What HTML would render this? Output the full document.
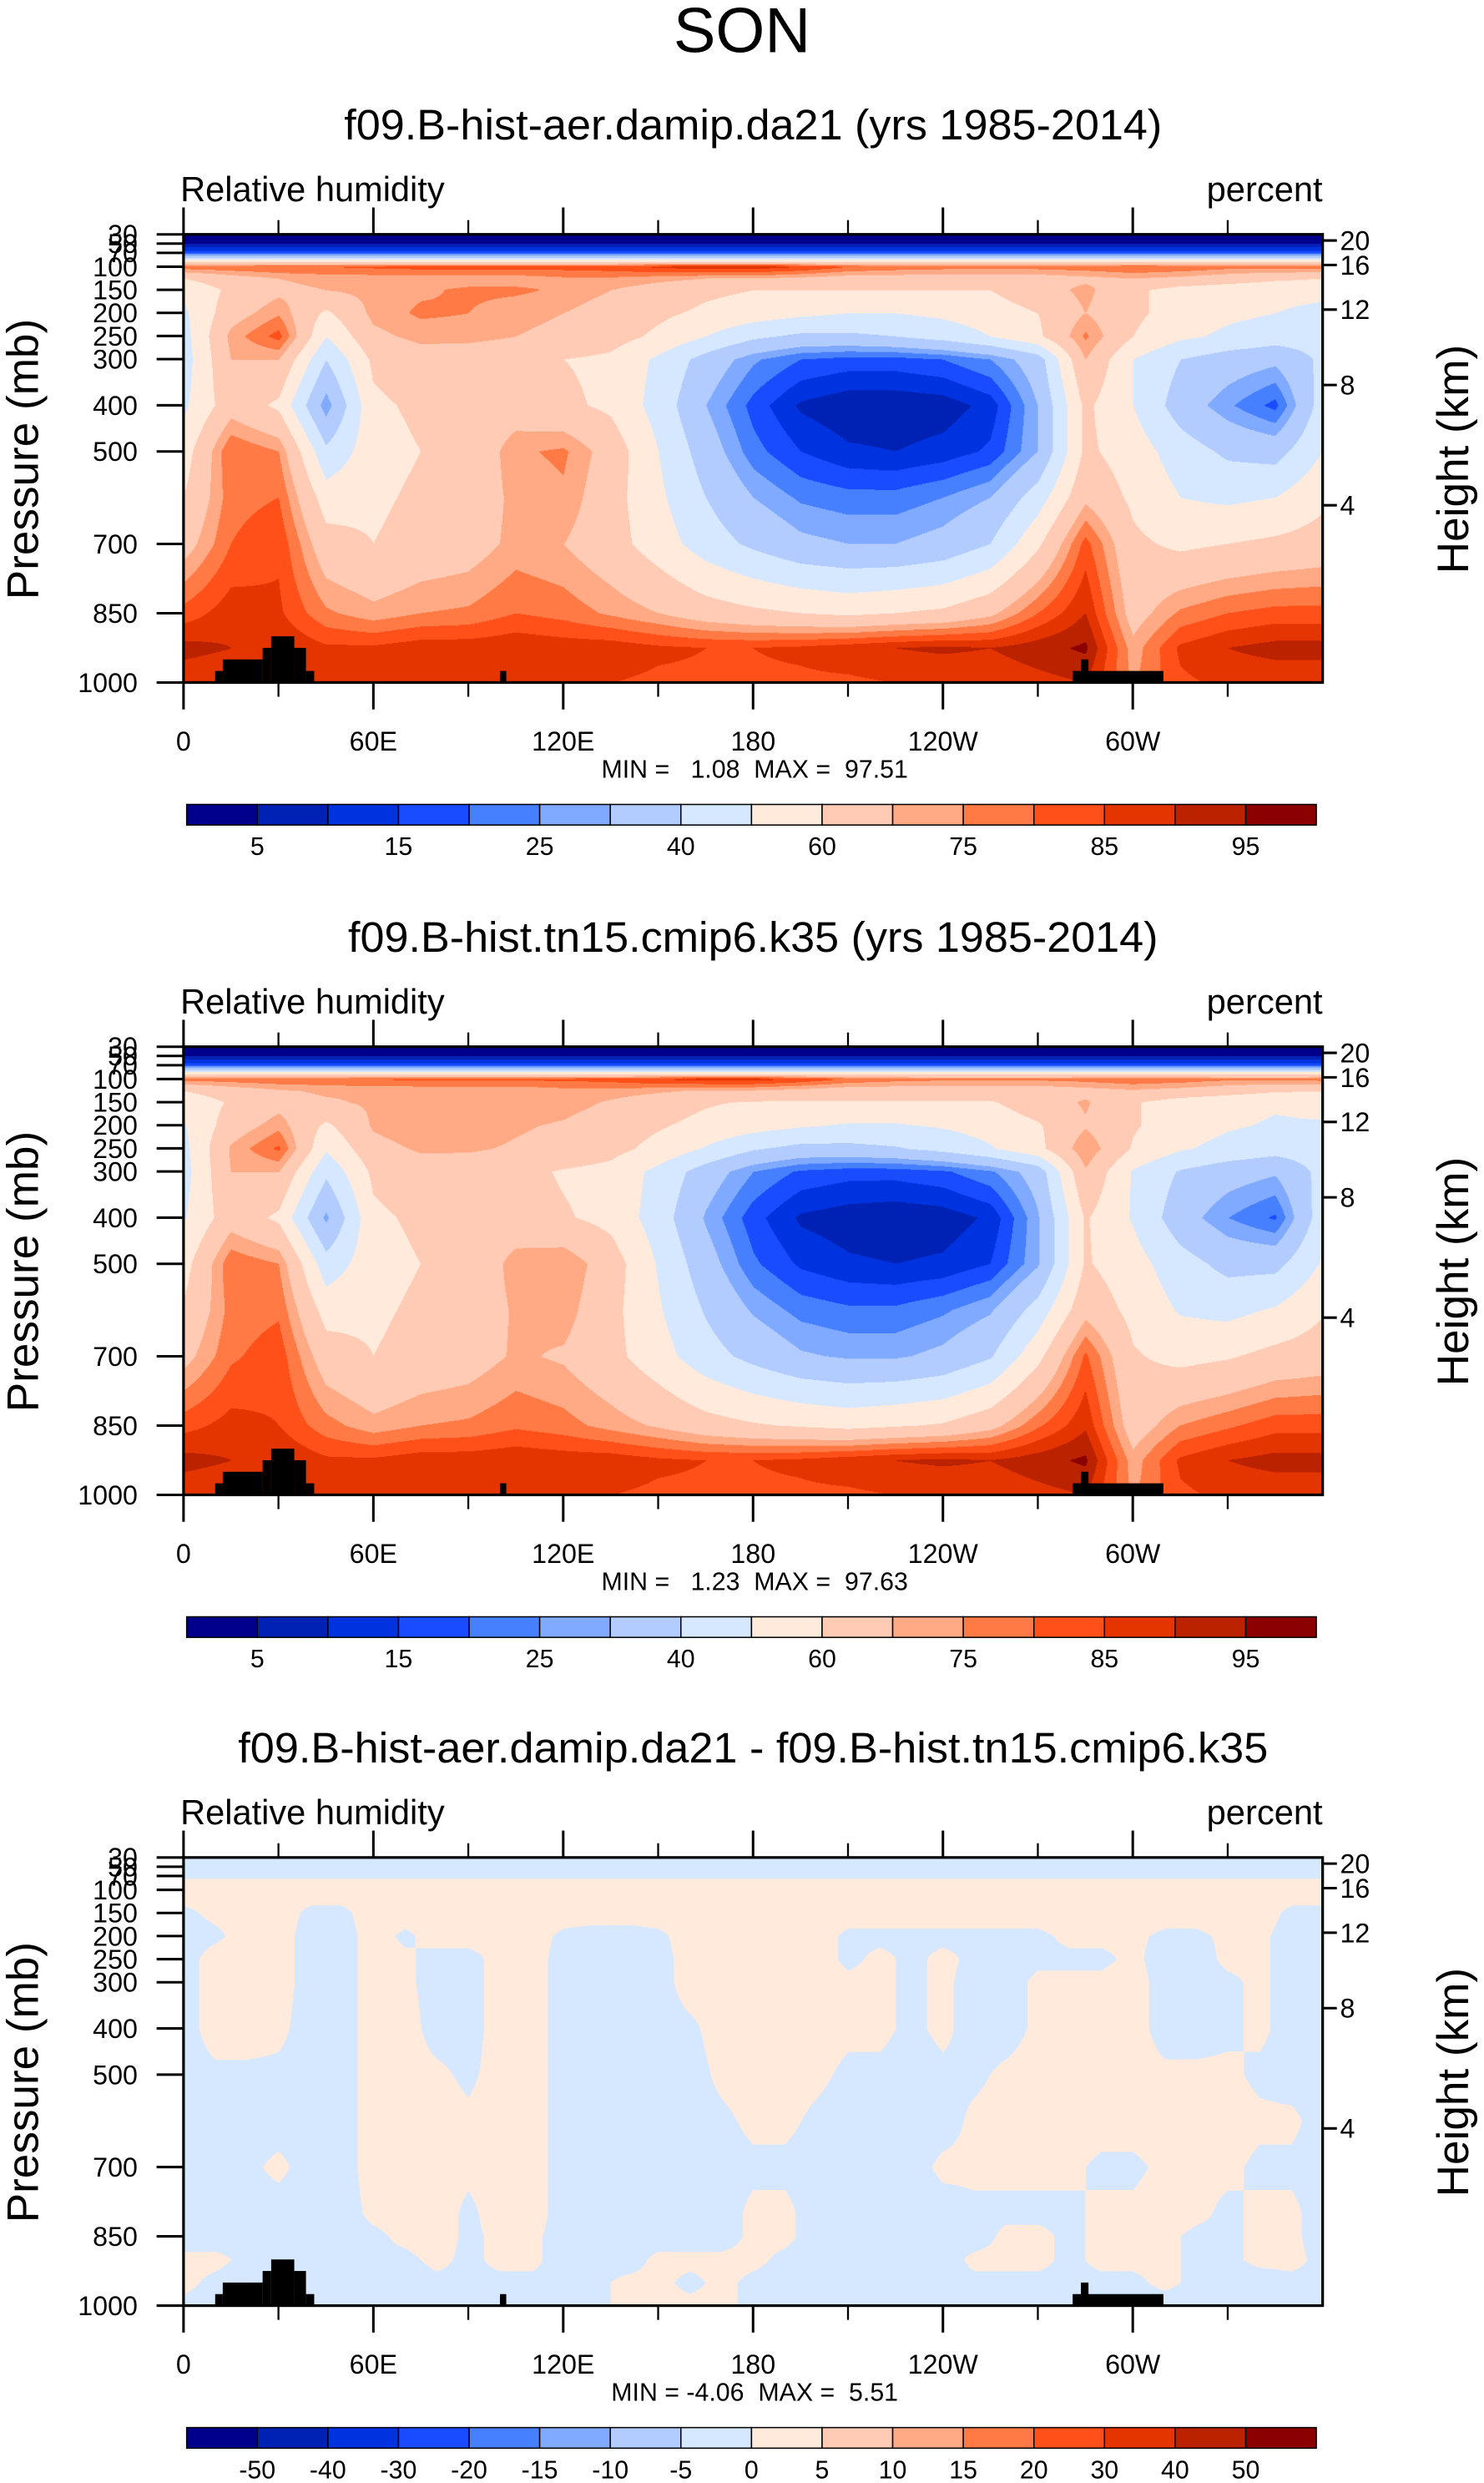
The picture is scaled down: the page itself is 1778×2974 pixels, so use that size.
<!DOCTYPE html>
<html><head><meta charset="utf-8"><style>
html,body{margin:0;padding:0;background:#fff}
svg{display:block}
text{font-family:"Liberation Sans",Arial,sans-serif;fill:#000}
</style></head><body>
<svg id="fig" xmlns="http://www.w3.org/2000/svg" width="1778" height="2974" viewBox="0 0 938 1568" preserveAspectRatio="none">
<rect x="0" y="0" width="938" height="1568" fill="#fff"/>
<text x="469" y="33" font-size="40" text-anchor="middle">SON</text>
</svg>
<script>
// ---------- data ----------
const colors = ["#00008c","#0022b4","#0033e0","#1a4cff","#4680ff","#80aaff","#b3ccff","#d6e8ff","#ffeadb","#ffcbb4","#ffaa84","#ff7a44","#ff501a","#e43400","#bb2200","#8b0000"];
const levelsRH = [5,10,15,20,25,30,40,50,60,70,75,80,85,90,95];
const levelLabelsRH = ["","5","","15","","25","","40","","60","","75","","85","","95",""];
const levelsDiff = [-50,-40,-30,-20,-15,-10,-5,0,5,10,15,20,30,40,50];
const levelLabelsDiff = ["","-50","-40","-30","-20","-15","-10","-5","0","5","10","15","20","30","40","50",""];

const pressureLevels = [30,50,70,80,90,100,125,150,200,250,300,400,500,600,700,850,925,1000];
const lonsRH = [0,15,30,45,60,75,90,105,120,135,150,165,180,195,210,225,240,255,270,285,300,315,330,345,360];

const rhA = [
[1,1,1,1,1,1,1,1,1,1,1,1,1,1,1,1,1,1,1,1,1,1,1,1,1],
[5,5,5,5,5,5,5,5,5,5,5,5,5,5,5,5,5,5,5,5,5,5,5,5,5],
[18,18,18,18,18,18,18,18,18,18,18,18,18,18,18,18,18,18,18,18,18,18,18,18,18],
[38,38,38,38,38,38,38,38,38,38,38,38,38,38,38,38,38,38,38,38,38,38,38,38,38],
[60,60,60,60,60,60,60,60,60,60,60,60,60,60,60,60,60,60,60,60,60,60,60,60,60],
[78,79,80,80,81,82,82,82,82,83,86,88,88,85,80,78,77,77,77,78,80,79,77,77,78],
[60,66,70,72,72,72,72,72,74,74,72,70,70,68,66,66,66,66,66,68,70,68,65,62,60],
[52,62,68,70,72,74,76,76,74,70,66,62,60,60,60,60,60,60,66,72,62,56,54,52,52],
[48,66,74,58,72,76,75,72,70,66,62,58,55,52,50,50,52,55,60,70,62,56,52,50,48],
[46,72,82,50,68,72,72,70,68,64,58,50,42,38,38,40,44,50,58,76,60,52,48,45,44],
[45,70,70,40,62,66,65,64,60,58,48,36,26,20,18,18,20,25,35,70,50,40,35,32,42],
[48,66,58,26,58,62,64,65,62,58,46,30,18,9,6,6,7,12,30,62,50,35,26,18,45],
[55,80,75,42,56,60,62,74,76,66,50,35,22,15,11,10,12,16,30,62,55,45,38,36,50],
[60,78,80,55,58,62,64,72,74,64,52,40,30,24,22,22,25,30,45,68,58,50,48,50,58],
[66,80,84,64,60,64,66,72,70,64,55,45,38,32,30,30,33,40,58,82,62,58,60,62,64],
[82,88,86,76,72,75,76,80,78,74,70,65,62,60,58,60,62,68,80,90,66,76,80,82,82],
[92,90,90,86,86,88,88,89,88,88,86,85,85,86,88,90,91,90,93,96,72,86,90,92,92],
[86,85,85,85,86,86,87,87,86,85,84,84,84,84,84,85,85,86,88,90,74,84,86,86,86]
];
const rhB = [
[1,1,1,1,1,1,1,1,1,1,1,1,1,1,1,1,1,1,1,1,1,1,1,1,1],
[5,5,5,5,5,5,5,5,5,5,5,5,5,5,5,5,5,5,5,5,5,5,5,5,5],
[18,18,18,18,18,18,18,18,18,18,18,18,18,18,18,18,18,18,18,18,18,18,18,18,18],
[38,38,38,38,38,38,38,38,38,38,38,38,38,38,38,38,38,38,38,38,38,38,38,38,38],
[60,60,60,60,60,60,60,60,60,60,60,60,60,60,60,60,60,60,60,60,60,60,60,60,60],
[77,78,79,79,80,81,81,81,81,82,85,87,87,84,79,77,76,76,76,77,79,78,76,76,77],
[60,65,69,71,71,71,71,71,73,73,71,69,69,67,65,65,65,65,65,67,69,67,64,61,60],
[53,61,67,69,71,73,75,75,73,69,65,61,59,59,59,59,59,59,65,71,61,55,53,51,53],
[49,65,73,58,71,75,74,71,69,65,61,57,54,51,49,49,51,54,59,69,61,55,51,49,49],
[47,71,81,51,67,71,71,69,67,63,57,49,41,37,37,39,43,49,57,75,59,51,47,44,45],
[46,70,70,42,62,66,65,63,59,57,47,35,25,19,17,17,19,24,34,69,49,39,34,31,43],
[49,66,58,28,58,62,64,64,61,57,45,29,17,9,7,6,7,11,29,61,49,34,25,19,46],
[56,79,75,44,56,60,62,73,75,65,49,34,21,14,11,10,11,15,29,61,54,44,37,37,51],
[61,77,79,56,58,62,64,71,73,63,51,39,29,23,21,21,24,29,44,67,57,49,47,51,59],
[67,79,83,65,60,64,66,71,69,63,54,44,37,31,29,29,32,39,57,81,61,57,59,63,65],
[83,87,85,77,72,75,76,79,77,73,69,64,61,59,57,59,61,67,79,89,65,75,79,83,83],
[92,90,90,86,86,88,88,89,88,88,86,85,85,86,88,90,91,90,93,96,72,86,90,92,92],
[86,85,85,85,86,86,87,87,86,85,84,84,84,84,84,85,85,86,88,90,74,84,86,86,86]
];

const pressureLevelsDiff = [30,70,100,150,200,250,300,400,500,600,700,800,850,900,950,1000];
const lonsDiff = [0,10,20,30,40,50,60,70,80,90,100,110,120,130,140,150,160,170,180,190,200,210,220,230,240,250,260,270,280,290,300,310,320,330,340,350,360];
const diffVals = [
[-2,-2,-2,-2,-2,-2,-2,-2,-2,-2,-2,-2,-2,-2,-2,-2,-2,-2,-2,-2,-2,-2,-2,-2,-2,-2,-2,-2,-2,-2,-2,-2,-2,-2,-2,-2,-2],
[-0.6,-0.6,-0.6,-0.6,-0.6,-0.6,-0.6,-0.6,-0.6,-0.6,-0.6,-0.6,-0.6,-0.6,-0.6,-0.6,-0.6,-0.6,-0.6,-0.6,-0.6,-0.6,-0.6,-0.6,-0.6,-0.6,-0.6,-0.6,-0.6,-0.6,-0.6,-0.6,-0.6,-0.6,-0.6,-0.6,-0.6],
[2,2,2,2,2,2,2,2,2,2,2,2,2,2,2,2,2,2,2,2,2,2,2,2,2,2,2,2,2,2,2,2,2,2,2,2,2],
[-1,1,2,2,-1,-1,2,2,2,2,2,2,2,2,2,2,2,2,2,2,2,2,2,2,2,2,2,2,2,2,2,2,2,2,2,-1,-1],
[-2,-1,2,2,-2,-2,2,-1,2,2,2,2,-1,-2,-2,-1,2,2,2,2,2,-1,-1,-1,-1,-1,-1,-1,1,1,1,-1,-1,1,1,-2,-2],
[-2,2,2,2,-2,-2,2,1,-2,-2,2,2,-2,-2,-2,-2,2,2,2,2,2,-1,1,-1,1,-1,-2,-1,-1,-1,1,-2,-2,1,1,-2,-2],
[-2,2,2,2,-2,-2,2,1,-2,-2,2,2,-2,-2,-2,-2,2,2,2,2,2,1,1,-1,1,-2,-2,1,1,1,2,-2,-2,-1,1,-2,-2],
[-2,2,2,1,-2,-2,2,2,-2,-2,2,2,-2,-2,-2,-2,-1,2,2,2,2,1,1,-1,1,-2,-2,1,2,2,2,-2,-2,-1,1,-2,-2],
[-2,-1,-1,-1,-2,-2,2,2,1,-1,2,2,-2,-2,-2,-2,-2,1,2,2,1,-1,-1,-2,-1,-1,1,2,2,2,2,1,1,1,-1,-2,-2],
[-2,-2,-2,-2,-2,-2,2,2,2,1,2,2,-2,-2,-2,-2,-2,-1,1,1,-1,-2,-2,-2,-2,1,2,2,2,2,2,2,2,2,1,1,-2],
[-2,-2,-1,1,-2,-2,2,2,2,1,2,2,-2,-2,-2,-2,-2,-2,-1,-1,-2,-2,-2,-2,1,1,1,1,1,-1,-1,1,1,1,-1,-1,-2],
[-2,-2,-2,-2,-2,-2,1,2,2,-1,2,2,-2,-2,-2,-2,-2,-2,1,1,-2,-2,-2,-2,-2,-1,-1,-1,-1,1,1,2,1,-1,1,1,-2],
[-2,-2,-2,-2,-2,-2,-1,1,2,-1,1,1,-2,-2,-2,-2,-2,-2,1,1,-2,-2,-2,-2,-2,-2,1,1,-1,1,1,1,-1,-1,1,1,-2],
[1,1,-1,-1,-2,-2,-1,-1,1,-1,1,1,-2,-2,-2,1,1,1,1,-1,-2,-2,-2,-2,-2,1,1,1,-1,1,1,1,-1,-1,1,1,-1],
[1,-1,-2,-2,-2,-2,-2,-2,-1,-1,-1,-1,-1,-1,1,1,-1,1,-1,-2,-2,-2,-2,-2,-2,-1,-1,-1,-1,-1,-1,1,-1,-2,-2,-1,-1],
[-1,-2,-2,-2,-2,-2,-2,-2,-2,-2,-2,-2,-2,-1,1,1,1,1,-1,-2,-2,-2,-2,-2,-2,-2,-2,-2,-2,-2,-2,-2,-2,-2,-2,-2,-2]
];

// land (topography) segments: start lon, end lon, surface pressure (mb)
const landStart = [10,12.4,25,27.7,35,38.7,100,281,283.6];
const landEnd   = [12.4,25,27.7,35,38.7,41.3,102,309.7,286];
const landP     = [975,950,925,900,925,975,975,975,950];

const pTicks = [30,50,70,100,150,200,250,300,400,500,700,850,1000];
const pTickLabels = ["30","50","70","100","150","200","250","300","400","500","700","850","1000"];
const hTicks = [20,16,12,8,4];
const lonMajor = [0,60,120,180,240,300];
const lonMajorLabels = ["0","60E","120E","180","120W","60W"];
const lonMinor = [30,90,150,210,270,330];

const panelTitles = ["f09.B-hist-aer.damip.da21 (yrs 1985-2014)","f09.B-hist.tn15.cmip6.k35 (yrs 1985-2014)","f09.B-hist-aer.damip.da21 - f09.B-hist.tn15.cmip6.k35"];
const panelTitleWidths = [517,512,651];
const panelMinMax = ["MIN =   1.08  MAX =  97.51","MIN =   1.23  MAX =  97.63","MIN = -4.06  MAX =  5.51"];

// ---------- drawing ----------
const NS = "http://www.w3.org/2000/svg";
const svg = document.getElementById("fig");
function mk(tag, attrs, parent){const e=document.createElementNS(NS,tag);for(const k in attrs)e.setAttribute(k,attrs[k]);(parent||svg).appendChild(e);return e;}

function interp(P, L, V, p, lon){
  let i=0; while(i<P.length-2 && p>P[i+1]) i++;
  let t=(p-P[i])/(P[i+1]-P[i]); t=Math.max(0,Math.min(1,t));
  let j=0; while(j<L.length-2 && lon>L[j+1]) j++;
  let u=(lon-L[j])/(L[j+1]-L[j]); u=Math.max(0,Math.min(1,u));
  const a=V[i][j],b=V[i][j+1],c=V[i+1][j],d=V[i+1][j+1];
  return (a*(1-u)+b*u)*(1-t)+(c*(1-u)+d*u)*t;
}
function levelIndex(v, lev){let k=0;while(k<lev.length&&v>=lev[k])k++;return k;}

function drawPanel(k, P, L, V, lev, labels){
  const off=[0,513,1025][k];
  const x0=116,x1=836,y0=148+off,y1=431+off;
  const xOf=lon=>x0+lon/360*(x1-x0);
  const yOf=p=>y1-(1000-p)/970*(y1-y0);
  const g=mk("g",{});
  
  
  const t1=mk("text",{x:476,y:88+off,"font-size":27,"text-anchor":"middle",textLength:panelTitleWidths[k],lengthAdjust:"spacingAndGlyphs"},g);
  t1.textContent=panelTitles[k];
  
  
  const t2=mk("text",{x:114,y:127+off,"font-size":22,textLength:167,lengthAdjust:"spacingAndGlyphs"},g);
  t2.textContent="Relative humidity";
  
  
  const t3=mk("text",{x:836,y:127+off,"font-size":22,"text-anchor":"end"},g);
  t3.textContent="percent";
  
  

  // field
  const step=0.5, paths=colors.map(()=>[]);
  for(let py=y0; py<y1; py+=step){
    const p=30+(py+step/2-y0)/(y1-y0)*970;
    let runStart=x0, runC=-1;
    for(let px=x0; px<=x1; px+=step){
      let c=-2;
      if(px<x1){const lon=(px+step/2-x0)/(x1-x0)*360;c=levelIndex(interp(P,L,V,p,lon),lev);}
      if(c!==runC){
        if(runC>=0) paths[runC].push("M"+runStart+" "+py+"h"+(px-runStart+0.3)+"v"+(step+0.3)+"h"+(-(px-runStart+0.3))+"z");
        runStart=px; runC=c;
      }
    }
  }
  paths.forEach((arr,ci)=>{
    if(!arr.length) return;
    const el=mk("path",{d:arr.join(""),fill:colors[ci]},g);
    
    
  });
  // land
  for(let i=0;i<landStart.length;i++){
    const r=mk("rect",{x:xOf(landStart[i]),y:yOf(landP[i]),width:xOf(landEnd[i])-xOf(landStart[i]),height:y1-yOf(landP[i]),fill:"#000"},g);
    
    
  }
  // frame
  const fr=mk("rect",{x:x0,y:y0,width:x1-x0,height:y1-y0,fill:"none",stroke:"#000","stroke-width":1.7},g);
  
  
  // left ticks
  pTicks.forEach((p,i)=>{
    const y=yOf(p);
    const l=mk("line",{x1:x0-17,x2:x0,y1:y,y2:y,stroke:"#000","stroke-width":1.6},g);
    
    
    const tx=mk("text",{x:87,y:y+6,"font-size":17,"text-anchor":"end"},g);
    tx.textContent=pTickLabels[i];
    
    
  });
  // right height ticks
  hTicks.forEach(h=>{
    const p=1013.25*Math.pow(1-2.25577e-5*h*1000,5.25588);
    const y=yOf(p);
    const l=mk("line",{x1:x1,x2:x1+9,y1:y,y2:y,stroke:"#000","stroke-width":1.6},g);
    
    
    const tx=mk("text",{x:x1+11,y:y+6,"font-size":17},g);
    tx.textContent=String(h);
    
    
  });
  // x ticks
  lonMajor.forEach((lon,i)=>{
    const x=xOf(lon);
    const a=mk("line",{x1:x,x2:x,y1:y1,y2:y1+17,stroke:"#000","stroke-width":1.6},g);
    
    
    const b=mk("line",{x1:x,x2:x,y1:y0,y2:y0-17,stroke:"#000","stroke-width":1.6},g);
    
    
    const tx=mk("text",{x:x,y:y1+43,"font-size":17,"text-anchor":"middle"},g);
    tx.textContent=lonMajorLabels[i];
    
    
  });
  lonMinor.forEach(lon=>{
    const x=xOf(lon);
    const a=mk("line",{x1:x,x2:x,y1:y1,y2:y1+9,stroke:"#000","stroke-width":1.2},g);
    
    
    const b=mk("line",{x1:x,x2:x,y1:y0,y2:y0-9,stroke:"#000","stroke-width":1.2},g);
    
    
  });
  // axis titles
  const ya=mk("text",{x:0,y:0,"font-size":28,"text-anchor":"middle",transform:"translate(24,"+(290+off)+") rotate(-90)"},g);
  ya.textContent="Pressure (mb)";
  
  
  const yb=mk("text",{x:0,y:0,"font-size":28,"text-anchor":"middle",transform:"translate(928,"+(290+off)+") rotate(-90)"},g);
  yb.textContent="Height (km)";
  
  
  const mm=mk("text",{x:477,y:491+off,"font-size":16,"text-anchor":"middle","xml:space":"preserve"},g);
  mm.style.whiteSpace="pre";
  mm.textContent=panelMinMax[k];
  
  
  // colorbar
  const cx0=118,cx1=832,cy0=508+off,cy1=521+off,bw=(cx1-cx0)/colors.length;
  colors.forEach((c,i)=>{
    const r=mk("rect",{x:cx0+i*bw,y:cy0,width:bw,height:cy1-cy0,fill:c,stroke:"#000","stroke-width":0.8},g);
    
    
  });
  labels.forEach((s,i)=>{
    if(!s) return;
    const tx=mk("text",{x:cx0+i*bw,y:cy1+19,"font-size":16,"text-anchor":"middle"},g);
    tx.textContent=s;
    
    
  });
}
drawPanel(0, pressureLevels, lonsRH, rhA, levelsRH, levelLabelsRH);
drawPanel(1, pressureLevels, lonsRH, rhB, levelsRH, levelLabelsRH);
drawPanel(2, pressureLevelsDiff, lonsDiff, diffVals, levelsDiff, levelLabelsDiff);
</script>
</body></html>
